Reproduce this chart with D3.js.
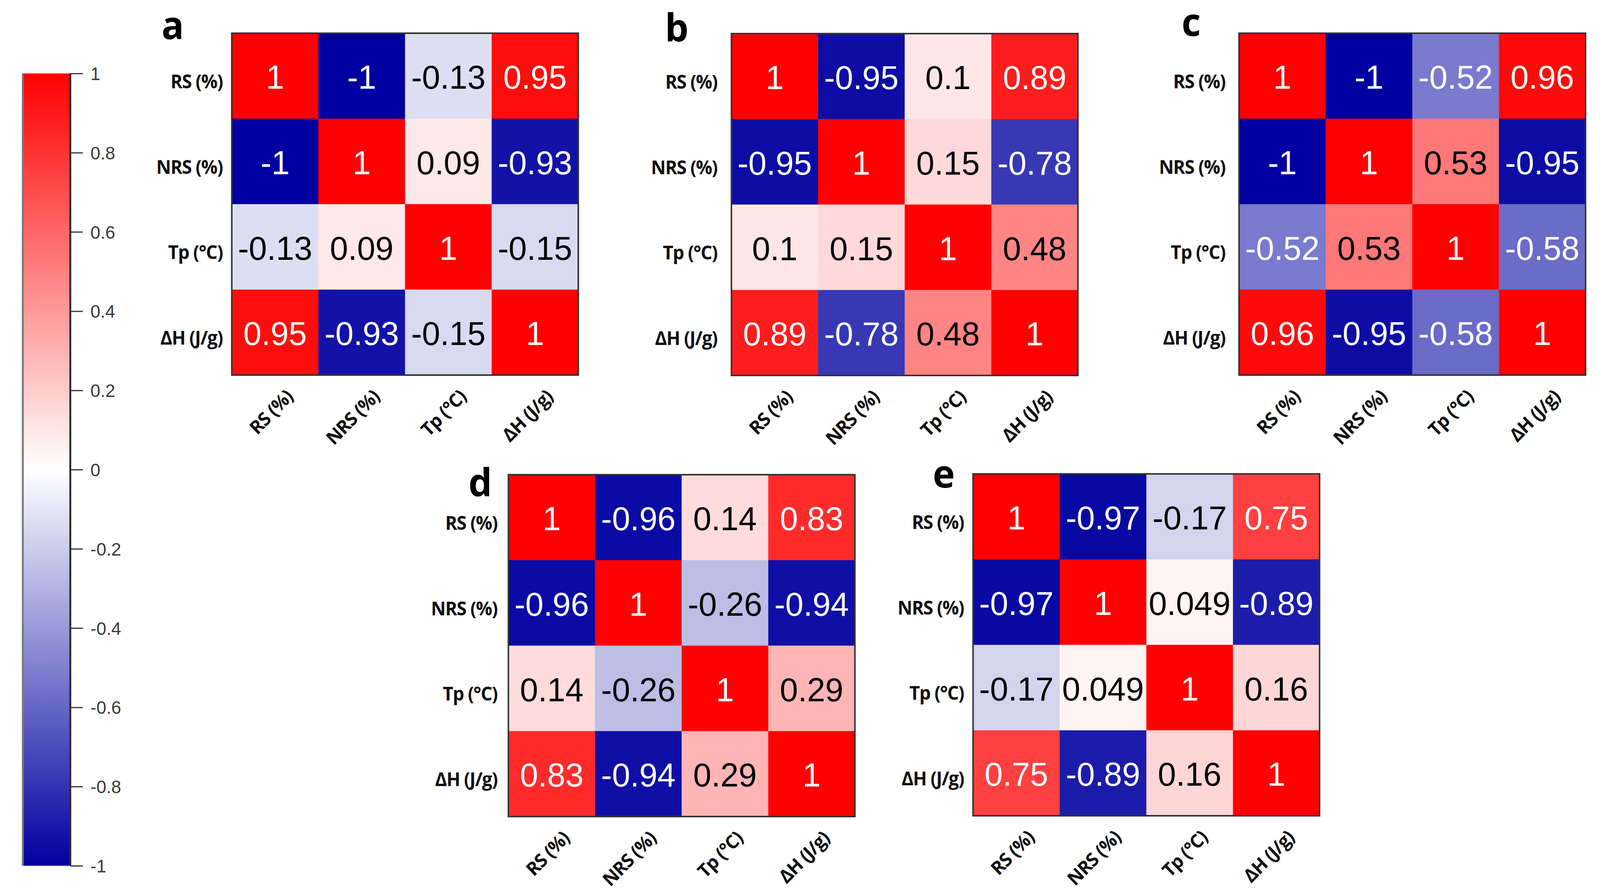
<!DOCTYPE html>
<html>
<head>
<meta charset="utf-8">
<script src="https://cdn.jsdelivr.net/npm/d3@7"></script>
<style>
  html, body { margin: 0; padding: 0; background: #ffffff; overflow: hidden; width: 100%; height: 100%; }
  svg { display: block; width: 100vw; height: 100vh; }
</style>
</head>
<body>
<svg id="chart" viewBox="0 0 4211 2278" preserveAspectRatio="none"></svg>
<script>
// ---------------- DATA ----------------
const categories = ["RS (%)", "NRS (%)", "Tp (°C)", "ΔH (J/g)"];
const panelLetters = ["a", "b", "c", "d", "e"];

const corrA = [
  [1, -1, -0.13, 0.95],
  [-1, 1, 0.09, -0.93],
  [-0.13, 0.09, 1, -0.15],
  [0.95, -0.93, -0.15, 1]
];
const corrB = [
  [1, -0.95, 0.1, 0.89],
  [-0.95, 1, 0.15, -0.78],
  [0.1, 0.15, 1, 0.48],
  [0.89, -0.78, 0.48, 1]
];
const corrC = [
  [1, -1, -0.52, 0.96],
  [-1, 1, 0.53, -0.95],
  [-0.52, 0.53, 1, -0.58],
  [0.96, -0.95, -0.58, 1]
];
const corrD = [
  [1, -0.96, 0.14, 0.83],
  [-0.96, 1, -0.26, -0.94],
  [0.14, -0.26, 1, 0.29],
  [0.83, -0.94, 0.29, 1]
];
const corrE = [
  [1, -0.97, -0.17, 0.75],
  [-0.97, 1, 0.049, -0.89],
  [-0.17, 0.049, 1, 0.16],
  [0.75, -0.89, 0.16, 1]
];
const colorbarTicks = [1, 0.8, 0.6, 0.4, 0.2, 0, -0.2, -0.4, -0.6, -0.8, -1];

// ---------------- LAYOUT / STYLE ----------------
const matrices = [corrA, corrB, corrC, corrD, corrE];
const layout = [
  { x: 610,  y: 85,   lx: 425,  ly: 100,  gap: 24 },
  { x: 1925, y: 86,   lx: 1750, ly: 106,  gap: 37 },
  { x: 3261, y: 85,   lx: 3110, ly: 92,   gap: 36 },
  { x: 1338, y: 1215, lx: 1233, ly: 1270, gap: 29 },
  { x: 2561, y: 1213, lx: 2455, ly: 1248, gap: 24 }
];
const W = 912, H = 875;
const labelFont = "'Open Sans', 'Noto Sans', sans-serif";
const valueFont = "'Liberation Sans', Arial, sans-serif";

const color = d3.scaleLinear()
  .domain([-1, 0, 1])
  .range(["#0000A0", "#FFFFFF", "#FF0000"])
  .interpolate(d3.interpolateRgb);

const svg = d3.select("#chart");

// ---------------- COLORBAR ----------------
const cb = { x: 60, y0: 188, y1: 2216, w: 125 };
const defs = svg.append("defs");
const grad = defs.append("linearGradient")
  .attr("id", "cbGrad").attr("x1", 0).attr("y1", 0).attr("x2", 0).attr("y2", 1);
d3.range(0, 21).forEach(i => {
  const v = 1 - i * 0.1;
  grad.append("stop").attr("offset", (i / 20)).attr("stop-color", color(v));
});
const cbScale = d3.scaleLinear().domain([-1, 1]).range([cb.y1, cb.y0]);
svg.append("rect")
  .attr("x", cb.x).attr("y", cb.y0)
  .attr("width", cb.w).attr("height", cb.y1 - cb.y0)
  .attr("fill", "url(#cbGrad)");
svg.append("line").attr("x1", cb.x).attr("x2", cb.x).attr("y1", cb.y0).attr("y2", cb.y1)
  .attr("stroke", "#7a7a7a").attr("stroke-width", 5);
svg.append("line").attr("x1", cb.x + cb.w).attr("x2", cb.x + cb.w).attr("y1", cb.y0).attr("y2", cb.y1)
  .attr("stroke", "#2a2a2a").attr("stroke-width", 5);

const cbAxis = d3.axisRight(cbScale)
  .tickValues(colorbarTicks)
  .tickSize(33)
  .tickPadding(20)
  .tickFormat(v => String(+v.toFixed(1)));
const cbG = svg.append("g").attr("transform", `translate(${cb.x + cb.w},0)`).call(cbAxis);
cbG.select(".domain").remove();
cbG.selectAll(".tick line").attr("stroke", "#333").attr("stroke-width", 3);
cbG.selectAll(".tick text")
  .attr("font-family", valueFont)
  .attr("font-size", 47)
  .attr("fill", "#3a3a3a")
  .attr("dy", "0.35em");

// ---------------- HEATMAPS ----------------
matrices.forEach((m, pi) => {
  const L = layout[pi];
  const g = svg.append("g").attr("transform", `translate(${L.x},${L.y})`);
  const x = d3.scaleBand().domain(categories).range([0, W]);
  const y = d3.scaleBand().domain(categories).range([0, H]);

  const cells = [];
  m.forEach((row, ri) => row.forEach((v, ci) => cells.push({ r: categories[ri], c: categories[ci], v })));

  g.selectAll("rect.cell").data(cells).enter().append("rect")
    .attr("class", "cell")
    .attr("x", d => x(d.c)).attr("y", d => y(d.r))
    .attr("width", x.bandwidth() + 0.5).attr("height", y.bandwidth() + 0.5)
    .attr("fill", d => color(d.v));

  g.selectAll("text.val").data(cells).enter().append("text")
    .attr("class", "val")
    .attr("x", d => x(d.c) + x.bandwidth() / 2)
    .attr("y", d => y(d.r) + y.bandwidth() / 2)
    .attr("text-anchor", "middle")
    .attr("dy", "0.38em")
    .attr("font-family", valueFont)
    .attr("font-size", 86)
    .attr("fill", d => (d.v >= 0.6 || d.v <= -0.4) ? "#ffffff" : "#000000")
    .text(d => String(d.v));

  g.append("rect")
    .attr("x", 0).attr("y", 0).attr("width", W).attr("height", H)
    .attr("fill", "none").attr("stroke", "#333").attr("stroke-width", 4);

  // row labels
  const yAxis = d3.axisLeft(y).tickSize(0).tickPadding(L.gap);
  const yG = g.append("g").call(yAxis);
  yG.select(".domain").remove();
  yG.selectAll(".tick text")
    .attr("font-family", labelFont)
    .attr("font-weight", 700)
    .attr("font-size", 48)
    .attr("letter-spacing", "-1.5px")
    .attr("fill", "#111")
    .attr("dy", "0.72em")
    .attr("y", -3);

  // column labels
  const xAxis = d3.axisBottom(x).tickSize(0);
  const xG = g.append("g").attr("transform", `translate(0,${H})`).call(xAxis);
  xG.select(".domain").remove();
  xG.selectAll(".tick text")
    .attr("font-family", labelFont)
    .attr("font-weight", 700)
    .attr("font-size", 48)
    .attr("letter-spacing", "-1.5px")
    .attr("fill", "#111")
    .attr("x", 0).attr("y", 0).attr("dy", 0)
    .attr("text-anchor", "end")
    .attr("transform", "translate(50,58) rotate(-45)");

  // panel letter
  svg.append("text")
    .attr("x", L.lx).attr("y", L.ly)
    .attr("font-family", labelFont)
    .attr("font-weight", 700)
    .attr("font-size", 98)
    .attr("fill", "#000")
    .text(panelLetters[pi]);
});
</script>
</body>
</html>
